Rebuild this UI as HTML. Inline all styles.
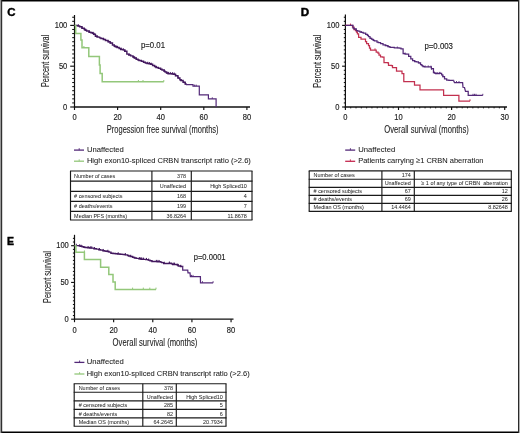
<!DOCTYPE html>
<html><head><meta charset="utf-8"><style>
html,body{margin:0;padding:0;background:#fff;}
body{width:520px;height:433px;position:relative;overflow:hidden;font-family:"Liberation Sans", sans-serif;}
</style></head><body>
<svg width="520" height="433" viewBox="0 0 520 433" style="position:absolute;left:0;top:0;will-change:transform">
<g font-family='"Liberation Sans", sans-serif'>
<rect x="0" y="0" width="520" height="433" fill="#fff"/>
<text x="7.2" y="16.4" font-size="11.5" text-anchor="start" fill="#000" stroke="#000" stroke-width="0.4" font-weight="bold" >C</text>
<line x1="74.5" y1="15" x2="74.5" y2="107.6" stroke="#111" stroke-width="1.2"/>
<line x1="70.2" y1="107" x2="74.5" y2="107" stroke="#111" stroke-width="1.15"/>
<line x1="72.2" y1="102.92" x2="74.5" y2="102.92" stroke="#111" stroke-width="1.05"/>
<line x1="72.2" y1="98.84" x2="74.5" y2="98.84" stroke="#111" stroke-width="1.05"/>
<line x1="72.2" y1="94.76" x2="74.5" y2="94.76" stroke="#111" stroke-width="1.05"/>
<line x1="72.2" y1="90.68" x2="74.5" y2="90.68" stroke="#111" stroke-width="1.05"/>
<line x1="72.2" y1="86.6" x2="74.5" y2="86.6" stroke="#111" stroke-width="1.05"/>
<line x1="72.2" y1="82.52" x2="74.5" y2="82.52" stroke="#111" stroke-width="1.05"/>
<line x1="72.2" y1="78.44" x2="74.5" y2="78.44" stroke="#111" stroke-width="1.05"/>
<line x1="72.2" y1="74.36" x2="74.5" y2="74.36" stroke="#111" stroke-width="1.05"/>
<line x1="72.2" y1="70.28" x2="74.5" y2="70.28" stroke="#111" stroke-width="1.05"/>
<line x1="70.2" y1="66.2" x2="74.5" y2="66.2" stroke="#111" stroke-width="1.15"/>
<line x1="72.2" y1="62.12" x2="74.5" y2="62.12" stroke="#111" stroke-width="1.05"/>
<line x1="72.2" y1="58.04" x2="74.5" y2="58.04" stroke="#111" stroke-width="1.05"/>
<line x1="72.2" y1="53.96" x2="74.5" y2="53.96" stroke="#111" stroke-width="1.05"/>
<line x1="72.2" y1="49.88" x2="74.5" y2="49.88" stroke="#111" stroke-width="1.05"/>
<line x1="72.2" y1="45.8" x2="74.5" y2="45.8" stroke="#111" stroke-width="1.05"/>
<line x1="72.2" y1="41.72" x2="74.5" y2="41.72" stroke="#111" stroke-width="1.05"/>
<line x1="72.2" y1="37.64" x2="74.5" y2="37.64" stroke="#111" stroke-width="1.05"/>
<line x1="72.2" y1="33.56" x2="74.5" y2="33.56" stroke="#111" stroke-width="1.05"/>
<line x1="72.2" y1="29.48" x2="74.5" y2="29.48" stroke="#111" stroke-width="1.05"/>
<line x1="70.2" y1="25.4" x2="74.5" y2="25.4" stroke="#111" stroke-width="1.15"/>
<line x1="72.2" y1="21.32" x2="74.5" y2="21.32" stroke="#111" stroke-width="1.05"/>
<line x1="72.2" y1="17.24" x2="74.5" y2="17.24" stroke="#111" stroke-width="1.05"/>
<line x1="73.9" y1="107" x2="250" y2="107" stroke="#111" stroke-width="1.3"/>
<line x1="74.5" y1="107" x2="74.5" y2="110" stroke="#111" stroke-width="1.15"/>
<line x1="117.6" y1="107" x2="117.6" y2="110" stroke="#111" stroke-width="1.15"/>
<line x1="160.7" y1="107" x2="160.7" y2="110" stroke="#111" stroke-width="1.15"/>
<line x1="203.8" y1="107" x2="203.8" y2="110" stroke="#111" stroke-width="1.15"/>
<line x1="246.9" y1="107" x2="246.9" y2="110" stroke="#111" stroke-width="1.15"/>
<text x="67.3" y="28.4" font-size="8.4" text-anchor="end" fill="#1c1c1c" stroke="#1c1c1c" stroke-width="0.15" textLength="12.61" lengthAdjust="spacingAndGlyphs" >100</text>
<text x="67.3" y="69.2" font-size="8.4" text-anchor="end" fill="#1c1c1c" stroke="#1c1c1c" stroke-width="0.15" textLength="8.41" lengthAdjust="spacingAndGlyphs" >50</text>
<text x="67.3" y="110" font-size="8.4" text-anchor="end" fill="#1c1c1c" stroke="#1c1c1c" stroke-width="0.15" textLength="4.2" lengthAdjust="spacingAndGlyphs" >0</text>
<text x="74.5" y="120.1" font-size="8.4" text-anchor="middle" fill="#1c1c1c" stroke="#1c1c1c" stroke-width="0.15" textLength="4.2" lengthAdjust="spacingAndGlyphs" >0</text>
<text x="117.6" y="120.1" font-size="8.4" text-anchor="middle" fill="#1c1c1c" stroke="#1c1c1c" stroke-width="0.15" textLength="8.41" lengthAdjust="spacingAndGlyphs" >20</text>
<text x="160.7" y="120.1" font-size="8.4" text-anchor="middle" fill="#1c1c1c" stroke="#1c1c1c" stroke-width="0.15" textLength="8.41" lengthAdjust="spacingAndGlyphs" >40</text>
<text x="203.8" y="120.1" font-size="8.4" text-anchor="middle" fill="#1c1c1c" stroke="#1c1c1c" stroke-width="0.15" textLength="8.41" lengthAdjust="spacingAndGlyphs" >60</text>
<text x="246.9" y="120.1" font-size="8.4" text-anchor="middle" fill="#1c1c1c" stroke="#1c1c1c" stroke-width="0.15" textLength="8.41" lengthAdjust="spacingAndGlyphs" >80</text>
<text x="106.8" y="133.2" font-size="10.0" text-anchor="start" fill="#222" stroke="#222" stroke-width="0.08" textLength="111.8" lengthAdjust="spacingAndGlyphs" >Progession free survival (months)</text>
<text x="0" y="0" font-size="10.3" text-anchor="start" fill="#222" stroke="#222" stroke-width="0.1" textLength="52.2" lengthAdjust="spacingAndGlyphs" transform="translate(48.9,87.1) rotate(-90)">Percent survival</text>
<text x="141" y="47.6" font-size="8.7" text-anchor="start" fill="#222" stroke="#222" stroke-width="0.15" textLength="24" lengthAdjust="spacingAndGlyphs" >p=0.01</text>
<text x="300.7" y="16.3" font-size="11.6" text-anchor="start" fill="#000" stroke="#000" stroke-width="0.45" font-weight="bold" >D</text>
<line x1="345.4" y1="14.6" x2="345.4" y2="107.6" stroke="#111" stroke-width="1.2"/>
<line x1="342.1" y1="107" x2="345.4" y2="107" stroke="#111" stroke-width="1.15"/>
<line x1="343.8" y1="102.92" x2="345.4" y2="102.92" stroke="#111" stroke-width="1.05"/>
<line x1="343.8" y1="98.84" x2="345.4" y2="98.84" stroke="#111" stroke-width="1.05"/>
<line x1="343.8" y1="94.76" x2="345.4" y2="94.76" stroke="#111" stroke-width="1.05"/>
<line x1="343.8" y1="90.68" x2="345.4" y2="90.68" stroke="#111" stroke-width="1.05"/>
<line x1="343.8" y1="86.6" x2="345.4" y2="86.6" stroke="#111" stroke-width="1.05"/>
<line x1="343.8" y1="82.52" x2="345.4" y2="82.52" stroke="#111" stroke-width="1.05"/>
<line x1="343.8" y1="78.44" x2="345.4" y2="78.44" stroke="#111" stroke-width="1.05"/>
<line x1="343.8" y1="74.36" x2="345.4" y2="74.36" stroke="#111" stroke-width="1.05"/>
<line x1="343.8" y1="70.28" x2="345.4" y2="70.28" stroke="#111" stroke-width="1.05"/>
<line x1="342.1" y1="66.2" x2="345.4" y2="66.2" stroke="#111" stroke-width="1.15"/>
<line x1="343.8" y1="62.12" x2="345.4" y2="62.12" stroke="#111" stroke-width="1.05"/>
<line x1="343.8" y1="58.04" x2="345.4" y2="58.04" stroke="#111" stroke-width="1.05"/>
<line x1="343.8" y1="53.96" x2="345.4" y2="53.96" stroke="#111" stroke-width="1.05"/>
<line x1="343.8" y1="49.88" x2="345.4" y2="49.88" stroke="#111" stroke-width="1.05"/>
<line x1="343.8" y1="45.8" x2="345.4" y2="45.8" stroke="#111" stroke-width="1.05"/>
<line x1="343.8" y1="41.72" x2="345.4" y2="41.72" stroke="#111" stroke-width="1.05"/>
<line x1="343.8" y1="37.64" x2="345.4" y2="37.64" stroke="#111" stroke-width="1.05"/>
<line x1="343.8" y1="33.56" x2="345.4" y2="33.56" stroke="#111" stroke-width="1.05"/>
<line x1="343.8" y1="29.48" x2="345.4" y2="29.48" stroke="#111" stroke-width="1.05"/>
<line x1="342.1" y1="25.4" x2="345.4" y2="25.4" stroke="#111" stroke-width="1.15"/>
<line x1="343.8" y1="21.32" x2="345.4" y2="21.32" stroke="#111" stroke-width="1.05"/>
<line x1="343.8" y1="17.24" x2="345.4" y2="17.24" stroke="#111" stroke-width="1.05"/>
<line x1="344.8" y1="107" x2="507" y2="107" stroke="#111" stroke-width="1.3"/>
<line x1="345.4" y1="107" x2="345.4" y2="110" stroke="#111" stroke-width="1.15"/>
<line x1="398.5" y1="107" x2="398.5" y2="110" stroke="#111" stroke-width="1.15"/>
<line x1="451.6" y1="107" x2="451.6" y2="110" stroke="#111" stroke-width="1.15"/>
<line x1="504.7" y1="107" x2="504.7" y2="110" stroke="#111" stroke-width="1.15"/>
<line x1="345.4" y1="107" x2="345.4" y2="108.4" stroke="#111" stroke-width="0.9"/>
<line x1="350.71" y1="107" x2="350.71" y2="108.4" stroke="#111" stroke-width="0.9"/>
<line x1="356.02" y1="107" x2="356.02" y2="108.4" stroke="#111" stroke-width="0.9"/>
<line x1="361.33" y1="107" x2="361.33" y2="108.4" stroke="#111" stroke-width="0.9"/>
<line x1="366.64" y1="107" x2="366.64" y2="108.4" stroke="#111" stroke-width="0.9"/>
<line x1="371.95" y1="107" x2="371.95" y2="108.4" stroke="#111" stroke-width="0.9"/>
<line x1="377.26" y1="107" x2="377.26" y2="108.4" stroke="#111" stroke-width="0.9"/>
<line x1="382.57" y1="107" x2="382.57" y2="108.4" stroke="#111" stroke-width="0.9"/>
<line x1="387.88" y1="107" x2="387.88" y2="108.4" stroke="#111" stroke-width="0.9"/>
<line x1="393.19" y1="107" x2="393.19" y2="108.4" stroke="#111" stroke-width="0.9"/>
<line x1="398.5" y1="107" x2="398.5" y2="108.4" stroke="#111" stroke-width="0.9"/>
<line x1="403.81" y1="107" x2="403.81" y2="108.4" stroke="#111" stroke-width="0.9"/>
<line x1="409.12" y1="107" x2="409.12" y2="108.4" stroke="#111" stroke-width="0.9"/>
<line x1="414.43" y1="107" x2="414.43" y2="108.4" stroke="#111" stroke-width="0.9"/>
<line x1="419.74" y1="107" x2="419.74" y2="108.4" stroke="#111" stroke-width="0.9"/>
<line x1="425.05" y1="107" x2="425.05" y2="108.4" stroke="#111" stroke-width="0.9"/>
<line x1="430.36" y1="107" x2="430.36" y2="108.4" stroke="#111" stroke-width="0.9"/>
<line x1="435.67" y1="107" x2="435.67" y2="108.4" stroke="#111" stroke-width="0.9"/>
<line x1="440.98" y1="107" x2="440.98" y2="108.4" stroke="#111" stroke-width="0.9"/>
<line x1="446.29" y1="107" x2="446.29" y2="108.4" stroke="#111" stroke-width="0.9"/>
<line x1="451.6" y1="107" x2="451.6" y2="108.4" stroke="#111" stroke-width="0.9"/>
<line x1="456.91" y1="107" x2="456.91" y2="108.4" stroke="#111" stroke-width="0.9"/>
<line x1="462.22" y1="107" x2="462.22" y2="108.4" stroke="#111" stroke-width="0.9"/>
<line x1="467.53" y1="107" x2="467.53" y2="108.4" stroke="#111" stroke-width="0.9"/>
<line x1="472.84" y1="107" x2="472.84" y2="108.4" stroke="#111" stroke-width="0.9"/>
<line x1="478.15" y1="107" x2="478.15" y2="108.4" stroke="#111" stroke-width="0.9"/>
<line x1="483.46" y1="107" x2="483.46" y2="108.4" stroke="#111" stroke-width="0.9"/>
<line x1="488.77" y1="107" x2="488.77" y2="108.4" stroke="#111" stroke-width="0.9"/>
<line x1="494.08" y1="107" x2="494.08" y2="108.4" stroke="#111" stroke-width="0.9"/>
<line x1="499.39" y1="107" x2="499.39" y2="108.4" stroke="#111" stroke-width="0.9"/>
<line x1="504.7" y1="107" x2="504.7" y2="108.4" stroke="#111" stroke-width="0.9"/>
<text x="339.4" y="28.4" font-size="8.4" text-anchor="end" fill="#1c1c1c" stroke="#1c1c1c" stroke-width="0.15" textLength="12.61" lengthAdjust="spacingAndGlyphs" >100</text>
<text x="339.4" y="69.2" font-size="8.4" text-anchor="end" fill="#1c1c1c" stroke="#1c1c1c" stroke-width="0.15" textLength="8.41" lengthAdjust="spacingAndGlyphs" >50</text>
<text x="339.4" y="110" font-size="8.4" text-anchor="end" fill="#1c1c1c" stroke="#1c1c1c" stroke-width="0.15" textLength="4.2" lengthAdjust="spacingAndGlyphs" >0</text>
<text x="345.4" y="120.1" font-size="8.4" text-anchor="middle" fill="#1c1c1c" stroke="#1c1c1c" stroke-width="0.15" textLength="4.2" lengthAdjust="spacingAndGlyphs" >0</text>
<text x="398.5" y="120.1" font-size="8.4" text-anchor="middle" fill="#1c1c1c" stroke="#1c1c1c" stroke-width="0.15" textLength="8.41" lengthAdjust="spacingAndGlyphs" >10</text>
<text x="451.6" y="120.1" font-size="8.4" text-anchor="middle" fill="#1c1c1c" stroke="#1c1c1c" stroke-width="0.15" textLength="8.41" lengthAdjust="spacingAndGlyphs" >20</text>
<text x="504.7" y="120.1" font-size="8.4" text-anchor="middle" fill="#1c1c1c" stroke="#1c1c1c" stroke-width="0.15" textLength="8.41" lengthAdjust="spacingAndGlyphs" >30</text>
<text x="384.3" y="133.3" font-size="10.1" text-anchor="start" fill="#222" stroke="#222" stroke-width="0.08" textLength="84.6" lengthAdjust="spacingAndGlyphs" >Overall survival (months)</text>
<text x="0" y="0" font-size="10.3" text-anchor="start" fill="#222" stroke="#222" stroke-width="0.1" textLength="53" lengthAdjust="spacingAndGlyphs" transform="translate(321.4,87.7) rotate(-90)">Percent survival</text>
<text x="424.4" y="48.9" font-size="8.6" text-anchor="start" fill="#222" stroke="#222" stroke-width="0.15" textLength="28.6" lengthAdjust="spacingAndGlyphs" >p=0.003</text>
<text x="7.1" y="245" font-size="11.3" text-anchor="start" fill="#000" stroke="#000" stroke-width="0.45" font-weight="bold" textLength="7" lengthAdjust="spacingAndGlyphs" >E</text>
<line x1="74.5" y1="234.8" x2="74.5" y2="319.8" stroke="#111" stroke-width="1.2"/>
<line x1="71.1" y1="319.2" x2="74.5" y2="319.2" stroke="#111" stroke-width="1.15"/>
<line x1="72.9" y1="315.52" x2="74.5" y2="315.52" stroke="#111" stroke-width="1.05"/>
<line x1="72.9" y1="311.85" x2="74.5" y2="311.85" stroke="#111" stroke-width="1.05"/>
<line x1="72.9" y1="308.18" x2="74.5" y2="308.18" stroke="#111" stroke-width="1.05"/>
<line x1="72.9" y1="304.5" x2="74.5" y2="304.5" stroke="#111" stroke-width="1.05"/>
<line x1="72.9" y1="300.82" x2="74.5" y2="300.82" stroke="#111" stroke-width="1.05"/>
<line x1="72.9" y1="297.15" x2="74.5" y2="297.15" stroke="#111" stroke-width="1.05"/>
<line x1="72.9" y1="293.47" x2="74.5" y2="293.47" stroke="#111" stroke-width="1.05"/>
<line x1="72.9" y1="289.8" x2="74.5" y2="289.8" stroke="#111" stroke-width="1.05"/>
<line x1="72.9" y1="286.12" x2="74.5" y2="286.12" stroke="#111" stroke-width="1.05"/>
<line x1="71.1" y1="282.45" x2="74.5" y2="282.45" stroke="#111" stroke-width="1.15"/>
<line x1="72.9" y1="278.77" x2="74.5" y2="278.77" stroke="#111" stroke-width="1.05"/>
<line x1="72.9" y1="275.1" x2="74.5" y2="275.1" stroke="#111" stroke-width="1.05"/>
<line x1="72.9" y1="271.43" x2="74.5" y2="271.43" stroke="#111" stroke-width="1.05"/>
<line x1="72.9" y1="267.75" x2="74.5" y2="267.75" stroke="#111" stroke-width="1.05"/>
<line x1="72.9" y1="264.07" x2="74.5" y2="264.07" stroke="#111" stroke-width="1.05"/>
<line x1="72.9" y1="260.4" x2="74.5" y2="260.4" stroke="#111" stroke-width="1.05"/>
<line x1="72.9" y1="256.72" x2="74.5" y2="256.72" stroke="#111" stroke-width="1.05"/>
<line x1="72.9" y1="253.05" x2="74.5" y2="253.05" stroke="#111" stroke-width="1.05"/>
<line x1="72.9" y1="249.38" x2="74.5" y2="249.38" stroke="#111" stroke-width="1.05"/>
<line x1="71.1" y1="245.7" x2="74.5" y2="245.7" stroke="#111" stroke-width="1.15"/>
<line x1="72.9" y1="242.02" x2="74.5" y2="242.02" stroke="#111" stroke-width="1.05"/>
<line x1="72.9" y1="238.35" x2="74.5" y2="238.35" stroke="#111" stroke-width="1.05"/>
<line x1="73.9" y1="319.2" x2="233.5" y2="319.2" stroke="#111" stroke-width="1.3"/>
<line x1="74.5" y1="319.2" x2="74.5" y2="322.2" stroke="#111" stroke-width="1.15"/>
<line x1="113.64" y1="319.2" x2="113.64" y2="322.2" stroke="#111" stroke-width="1.15"/>
<line x1="152.78" y1="319.2" x2="152.78" y2="322.2" stroke="#111" stroke-width="1.15"/>
<line x1="191.92" y1="319.2" x2="191.92" y2="322.2" stroke="#111" stroke-width="1.15"/>
<line x1="231.06" y1="319.2" x2="231.06" y2="322.2" stroke="#111" stroke-width="1.15"/>
<text x="68.8" y="248.2" font-size="8.4" text-anchor="end" fill="#1c1c1c" stroke="#1c1c1c" stroke-width="0.15" textLength="12.61" lengthAdjust="spacingAndGlyphs" >100</text>
<text x="68.8" y="284.95" font-size="8.4" text-anchor="end" fill="#1c1c1c" stroke="#1c1c1c" stroke-width="0.15" textLength="8.41" lengthAdjust="spacingAndGlyphs" >50</text>
<text x="68.8" y="321.7" font-size="8.4" text-anchor="end" fill="#1c1c1c" stroke="#1c1c1c" stroke-width="0.15" textLength="4.2" lengthAdjust="spacingAndGlyphs" >0</text>
<text x="74.5" y="332.5" font-size="8.4" text-anchor="middle" fill="#1c1c1c" stroke="#1c1c1c" stroke-width="0.15" textLength="4.2" lengthAdjust="spacingAndGlyphs" >0</text>
<text x="113.64" y="332.5" font-size="8.4" text-anchor="middle" fill="#1c1c1c" stroke="#1c1c1c" stroke-width="0.15" textLength="8.41" lengthAdjust="spacingAndGlyphs" >20</text>
<text x="152.78" y="332.5" font-size="8.4" text-anchor="middle" fill="#1c1c1c" stroke="#1c1c1c" stroke-width="0.15" textLength="8.41" lengthAdjust="spacingAndGlyphs" >40</text>
<text x="191.92" y="332.5" font-size="8.4" text-anchor="middle" fill="#1c1c1c" stroke="#1c1c1c" stroke-width="0.15" textLength="8.41" lengthAdjust="spacingAndGlyphs" >60</text>
<text x="231.06" y="332.5" font-size="8.4" text-anchor="middle" fill="#1c1c1c" stroke="#1c1c1c" stroke-width="0.15" textLength="8.41" lengthAdjust="spacingAndGlyphs" >80</text>
<text x="112.6" y="345.7" font-size="10.1" text-anchor="start" fill="#222" stroke="#222" stroke-width="0.08" textLength="84.8" lengthAdjust="spacingAndGlyphs" >Overall survival (months)</text>
<text x="0" y="0" font-size="10.3" text-anchor="start" fill="#222" stroke="#222" stroke-width="0.1" textLength="51.8" lengthAdjust="spacingAndGlyphs" transform="translate(50.6,302.9) rotate(-90)">Percent survival</text>
<text x="193.7" y="260.2" font-size="8.6" text-anchor="start" fill="#222" stroke="#222" stroke-width="0.15" textLength="31.9" lengthAdjust="spacingAndGlyphs" >p=0.0001</text>
<polyline points="74.5,25.4 75.71,25.4 75.71,25.5 77.94,25.5 77.94,25.95 79.66,25.95 79.66,26.77 81.92,26.77 81.92,28.19 84.26,28.19 84.26,29.62 85.26,29.62 85.26,30.18 86.62,30.18 86.62,31.05 89.07,31.05 89.07,32.3 90.93,32.3 90.93,32.73 92.54,32.73 92.54,33.22 93.59,33.22 93.59,34.29 95.38,34.29 95.38,36.21 96.73,36.21 96.73,36.71 97.77,36.71 97.77,37.11 99.66,37.11 99.66,37.88 100.96,37.88 100.96,38.47 103.33,38.47 103.33,39.55 105.49,39.55 105.49,40.54 107.98,40.54 107.98,41.75 110.06,41.75 110.06,43 112.47,43 112.47,44.92 114.28,44.92 114.28,46.33 115.33,46.33 115.33,46.74 116.99,46.74 116.99,47.41 119.12,47.41 119.12,48.55 120.72,48.55 120.72,49.42 122.96,49.42 122.96,49.85 124.75,49.85 124.75,51.25 126.87,51.25 126.87,54.13 128.82,54.13 128.82,55.05 130.63,55.05 130.63,55.85 132.86,55.85 132.86,57.06 134.23,57.06 134.23,58.07 136.16,58.07 136.16,59.2 138.03,59.2 138.03,60.09 139.04,60.09 139.04,60.44 141.35,60.44 141.35,61.33 143.54,61.33 143.54,62.29 145.37,62.29 145.37,62.94 147.05,62.94 147.05,63.41 148.96,63.41 148.96,63.79 150.74,63.79 150.74,64.3 152.6,64.3 152.6,65.4 154.58,65.4 154.58,66.64 155.95,66.64 155.95,67.4 158.32,67.4 158.32,68.33 160.6,68.33 160.6,69.27 162.01,69.27 162.01,69.99 164.09,69.99 164.09,71.33 165.11,71.33 165.11,72.05 166.51,72.05 166.51,73.09 168.06,73.09 168.06,73.65 169.9,73.65 169.9,73.75 172.04,73.75 172.04,73.96 173.8,73.96 173.8,74.16 175.47,74.16 175.47,75.65 177.91,75.65 177.91,77.97 179.88,77.97 179.88,79.7 180.92,79.7 180.92,80.59 183.07,80.59 183.07,82.34 185.15,82.34 185.15,83.92 186,83.92 186,84.6" fill="none" stroke="#43185f" stroke-width="1.45" stroke-linejoin="miter" />
<line x1="78.43" y1="26.43" x2="78.43" y2="24.33" stroke="#43185f" stroke-width="1.0"/>
<line x1="82.14" y1="28.63" x2="82.14" y2="26.53" stroke="#43185f" stroke-width="1.0"/>
<line x1="84.91" y1="30.29" x2="84.91" y2="28.19" stroke="#43185f" stroke-width="1.0"/>
<line x1="85.89" y1="30.84" x2="85.89" y2="28.74" stroke="#43185f" stroke-width="1.0"/>
<line x1="89.28" y1="32.65" x2="89.28" y2="30.55" stroke="#43185f" stroke-width="1.0"/>
<line x1="93" y1="33.85" x2="93" y2="31.75" stroke="#43185f" stroke-width="1.0"/>
<line x1="94.05" y1="35.16" x2="94.05" y2="33.06" stroke="#43185f" stroke-width="1.0"/>
<line x1="95.72" y1="36.63" x2="95.72" y2="34.53" stroke="#43185f" stroke-width="1.0"/>
<line x1="97.11" y1="37.15" x2="97.11" y2="35.05" stroke="#43185f" stroke-width="1.0"/>
<line x1="103.73" y1="40.03" x2="103.73" y2="37.93" stroke="#43185f" stroke-width="1.0"/>
<line x1="108.68" y1="42.42" x2="108.68" y2="40.32" stroke="#43185f" stroke-width="1.0"/>
<line x1="110.61" y1="43.66" x2="110.61" y2="41.56" stroke="#43185f" stroke-width="1.0"/>
<line x1="116.01" y1="47.31" x2="116.01" y2="45.21" stroke="#43185f" stroke-width="1.0"/>
<line x1="117.52" y1="47.94" x2="117.52" y2="45.84" stroke="#43185f" stroke-width="1.0"/>
<line x1="121.22" y1="49.81" x2="121.22" y2="47.71" stroke="#43185f" stroke-width="1.0"/>
<line x1="123.4" y1="50.49" x2="123.4" y2="48.39" stroke="#43185f" stroke-width="1.0"/>
<line x1="124.97" y1="51.72" x2="124.97" y2="49.62" stroke="#43185f" stroke-width="1.0"/>
<line x1="129.12" y1="55.49" x2="129.12" y2="53.39" stroke="#43185f" stroke-width="1.0"/>
<line x1="133.58" y1="57.89" x2="133.58" y2="55.79" stroke="#43185f" stroke-width="1.0"/>
<line x1="135" y1="58.84" x2="135" y2="56.74" stroke="#43185f" stroke-width="1.0"/>
<line x1="136.52" y1="59.71" x2="136.52" y2="57.61" stroke="#43185f" stroke-width="1.0"/>
<line x1="147.77" y1="63.85" x2="147.77" y2="61.75" stroke="#43185f" stroke-width="1.0"/>
<line x1="149.47" y1="64.23" x2="149.47" y2="62.13" stroke="#43185f" stroke-width="1.0"/>
<line x1="151.15" y1="64.73" x2="151.15" y2="62.63" stroke="#43185f" stroke-width="1.0"/>
<line x1="154.8" y1="67.07" x2="154.8" y2="64.97" stroke="#43185f" stroke-width="1.0"/>
<line x1="156.5" y1="67.91" x2="156.5" y2="65.81" stroke="#43185f" stroke-width="1.0"/>
<line x1="164.3" y1="71.77" x2="164.3" y2="69.67" stroke="#43185f" stroke-width="1.0"/>
<line x1="167.08" y1="73.81" x2="167.08" y2="71.71" stroke="#43185f" stroke-width="1.0"/>
<line x1="168.35" y1="73.97" x2="168.35" y2="71.87" stroke="#43185f" stroke-width="1.0"/>
<line x1="170.27" y1="74.08" x2="170.27" y2="71.98" stroke="#43185f" stroke-width="1.0"/>
<line x1="172.43" y1="74.3" x2="172.43" y2="72.2" stroke="#43185f" stroke-width="1.0"/>
<line x1="174.23" y1="74.64" x2="174.23" y2="72.54" stroke="#43185f" stroke-width="1.0"/>
<line x1="175.74" y1="76.23" x2="175.74" y2="74.13" stroke="#43185f" stroke-width="1.0"/>
<line x1="178.24" y1="78.56" x2="178.24" y2="76.46" stroke="#43185f" stroke-width="1.0"/>
<line x1="181.2" y1="81.14" x2="181.2" y2="79.04" stroke="#43185f" stroke-width="1.0"/>
<line x1="183.69" y1="83.1" x2="183.69" y2="81" stroke="#43185f" stroke-width="1.0"/>
<line x1="185.48" y1="84.49" x2="185.48" y2="82.39" stroke="#43185f" stroke-width="1.0"/>
<polyline points="186,84.6 193,84.6 193,86.2 199.3,86.2 199.3,94.8 208.4,94.8 208.4,98.9 216.1,98.9 216.1,107" fill="none" stroke="#532878" stroke-width="1.2" stroke-linejoin="miter" />
<line x1="194.6" y1="86.2" x2="194.6" y2="84.6" stroke="#532878" stroke-width="0.9"/>
<line x1="196.2" y1="86.2" x2="196.2" y2="84.6" stroke="#532878" stroke-width="0.9"/>
<line x1="212.3" y1="98.9" x2="212.3" y2="97.3" stroke="#532878" stroke-width="0.9"/>
<polyline points="74.6,25.4 75.7,25.4 75.7,33.4 80.9,33.4 80.9,40.1 82,40.1 82,47.7 88.8,47.7 88.8,56.4 99.4,56.4 99.4,65 100.1,65 100.1,73.4 102.2,73.4 102.2,81.8 163.8,81.8 163.8,81.8" fill="none" stroke="#93c77a" stroke-width="1.5" stroke-linejoin="miter" />
<line x1="138.4" y1="81.8" x2="138.4" y2="80" stroke="#93c77a" stroke-width="1.0"/>
<line x1="143" y1="81.8" x2="143" y2="80" stroke="#93c77a" stroke-width="1.0"/>
<line x1="163.8" y1="81.8" x2="163.8" y2="80" stroke="#93c77a" stroke-width="1.0"/>
<line x1="83.9" y1="47.7" x2="83.9" y2="46" stroke="#93c77a" stroke-width="1.0"/>
<polyline points="345.4,25.4 350.5,25.4 350.5,25.4 352.5,25.4 352.5,27 354,27 354,29.5 355.5,29.5 355.5,30.5 356.5,30.5 356.5,32 357.4,32 357.4,33.8 358.6,33.8 358.6,37.3 361,37.3 361,39 363.8,39 363.8,39 365.5,39 365.5,41.5 366.6,41.5 366.6,43.6 368.5,43.6 368.5,45.5 369.5,45.5 369.5,48 370.5,48 370.5,50.2 375.3,50.2 375.3,50.2 376.2,50.2 376.2,52 378,52 378,53 379,53 379,55.2 380.5,55.2 380.5,56.9 382.5,56.9 382.5,57 384,57 384,62.5 388.1,62.5 388.1,63 388.5,63 388.5,65.4 391.5,65.4 391.5,65.5 392.5,65.5 392.5,67.7 395.6,67.7 395.6,67.7 396.5,67.7 396.5,71.1 401.3,71.1 401.3,71.1 402,71.1 402,73.5 403.6,73.5 403.6,73.5 403.8,73.5 403.8,81.5 413.4,81.5 413.4,81.5 414.5,81.5 414.5,85.2 419.4,85.2 419.4,85.2 420,85.2 420,89.85 443.6,89.85 443.6,89.85 443.6,89.85 443.6,95.4 458.9,95.4 458.9,95.4 458.9,95.4 458.9,101.1 470,101.1 470,101.1" fill="none" stroke="#c2304f" stroke-width="1.25" stroke-linejoin="miter" />
<line x1="350.5" y1="25.4" x2="350.5" y2="23.6" stroke="#c2304f" stroke-width="1.0"/>
<line x1="470" y1="101.1" x2="470" y2="99.3" stroke="#c2304f" stroke-width="1.0"/>
<line x1="375" y1="50.2" x2="375" y2="48.4" stroke="#c2304f" stroke-width="1.0"/>
<polyline points="345.4,25.4 350.5,25.4 353.03,25.4 353.03,28.03 354.12,28.03 354.12,28.97 356.3,28.97 356.3,30.6 357.79,30.6 357.79,31.13 359.76,31.13 359.76,31.9 361.02,31.9 361.02,32.41 363.17,32.41 363.17,33.13 365.69,33.13 365.69,34.29 367.4,34.29 367.4,35.28 368.45,35.28 368.45,36.73 369.96,36.73 369.96,38.35 371.8,38.35 371.8,39.48 373.18,39.48 373.18,40.27 374.39,40.27 374.39,40.92 376.99,40.92 376.99,42.01 378.28,42.01 378.28,42.54 380.56,42.54 380.56,43.71 383.01,43.71 383.01,44.9 385.27,44.9 385.27,45.69 387.81,45.69 387.81,46.71 389.95,46.71 389.95,47.29 391.8,47.29 391.8,47.49 394.28,47.49 394.28,47.75 396.61,47.75 396.61,47.96 399.05,47.96 399.05,48.2 400.96,48.2 400.96,48.79 403.12,48.79 403.12,53.59 404.47,53.59 404.47,53.86 405.74,53.86 405.74,54.02 407.17,54.02 407.17,54.2 408.66,54.2 408.66,56.28 410.79,56.28 410.79,58.92 412.62,58.92 412.62,60.72 414.56,60.72 414.56,61.51 416.38,61.51 416.38,61.98 418.38,61.98 418.38,62.91 420.54,62.91 420.54,64.63 421.85,64.63 421.85,65.67 422.94,65.67 422.94,66.54 424.38,66.54 424.38,66.9 425.55,66.9 425.55,66.9 427.91,66.9 427.91,66.9 430.32,66.9 430.32,66.9 431.37,66.9 431.37,68.66 433.45,68.66 433.45,72.51 434.49,72.51 434.49,73.02 435.53,73.02 435.53,73.52 436.78,73.52 436.78,73.73 438.39,73.73 438.39,73.55 439.64,73.55 439.64,73.42 441.62,73.42 441.62,74.97 442.8,74.97 442.8,76.67 444.52,76.67 444.52,78.91 446.7,78.91 446.7,80.04 448.91,80.04 448.91,80.33 451.04,80.33 451.04,80.36 452.4,80.36 452.4,80.38 453.5,80.38 453.5,80.4" fill="none" stroke="#532878" stroke-width="1.25" stroke-linejoin="miter" />
<line x1="354.82" y1="29.83" x2="354.82" y2="28.03" stroke="#532878" stroke-width="0.85"/>
<line x1="361.45" y1="32.88" x2="361.45" y2="31.08" stroke="#532878" stroke-width="0.85"/>
<line x1="367.62" y1="35.89" x2="367.62" y2="34.09" stroke="#532878" stroke-width="0.85"/>
<line x1="370.69" y1="39.14" x2="370.69" y2="37.34" stroke="#532878" stroke-width="0.85"/>
<line x1="373.57" y1="40.8" x2="373.57" y2="39" stroke="#532878" stroke-width="0.85"/>
<line x1="386.06" y1="46.23" x2="386.06" y2="44.43" stroke="#532878" stroke-width="0.85"/>
<line x1="388.46" y1="47.22" x2="388.46" y2="45.42" stroke="#532878" stroke-width="0.85"/>
<line x1="397.34" y1="48.33" x2="397.34" y2="46.53" stroke="#532878" stroke-width="0.85"/>
<line x1="405.09" y1="54.24" x2="405.09" y2="52.44" stroke="#532878" stroke-width="0.85"/>
<line x1="414.89" y1="61.89" x2="414.89" y2="60.09" stroke="#532878" stroke-width="0.85"/>
<line x1="419.07" y1="63.76" x2="419.07" y2="61.96" stroke="#532878" stroke-width="0.85"/>
<line x1="425.1" y1="67.2" x2="425.1" y2="65.4" stroke="#532878" stroke-width="0.85"/>
<line x1="428.24" y1="67.2" x2="428.24" y2="65.4" stroke="#532878" stroke-width="0.85"/>
<line x1="430.95" y1="67.4" x2="430.95" y2="65.6" stroke="#532878" stroke-width="0.85"/>
<line x1="431.68" y1="70" x2="431.68" y2="68.2" stroke="#532878" stroke-width="0.85"/>
<line x1="434.22" y1="73.19" x2="434.22" y2="71.39" stroke="#532878" stroke-width="0.85"/>
<line x1="436.21" y1="74.09" x2="436.21" y2="72.29" stroke="#532878" stroke-width="0.85"/>
<line x1="437.39" y1="73.96" x2="437.39" y2="72.16" stroke="#532878" stroke-width="0.85"/>
<line x1="439.19" y1="73.76" x2="439.19" y2="71.96" stroke="#532878" stroke-width="0.85"/>
<line x1="440.04" y1="73.67" x2="440.04" y2="71.87" stroke="#532878" stroke-width="0.85"/>
<line x1="443.02" y1="77.28" x2="443.02" y2="75.48" stroke="#532878" stroke-width="0.85"/>
<polyline points="453.5,80.4 454.5,82.6 462.6,82.6 463,87.3 464.5,87.5 465.5,91.3 468.2,91.3 468.2,95.4 482.8,95.4" fill="none" stroke="#532878" stroke-width="1.25" stroke-linejoin="miter" />
<line x1="473" y1="95.4" x2="473" y2="93.8" stroke="#532878" stroke-width="0.9"/>
<line x1="474.5" y1="95.4" x2="474.5" y2="93.8" stroke="#532878" stroke-width="0.9"/>
<line x1="476" y1="95.4" x2="476" y2="93.8" stroke="#532878" stroke-width="0.9"/>
<line x1="482.8" y1="95.4" x2="482.8" y2="93.8" stroke="#532878" stroke-width="0.9"/>
<line x1="459" y1="82.6" x2="459" y2="81" stroke="#532878" stroke-width="0.9"/>
<line x1="456.5" y1="82.6" x2="456.5" y2="81" stroke="#532878" stroke-width="0.9"/>
<polyline points="74.5,245.7 75.88,245.7 75.88,245.6 77.85,245.6 77.85,245.64 78.95,245.64 78.95,245.89 80.37,245.89 80.37,246.31 82.12,246.31 82.12,246.81 83.88,246.81 83.88,247.25 85.12,247.25 85.12,247.41 87.51,247.41 87.51,247.75 89.59,247.75 89.59,247.97 91.53,247.97 91.53,248.1 93.92,248.1 93.92,248.78 96.32,248.78 96.32,249.13 98.8,249.13 98.8,249.69 100.51,249.69 100.51,250.1 102.91,250.1 102.91,250.67 104.26,250.67 104.26,250.99 105.96,250.99 105.96,251.27 107.44,251.27 107.44,251.51 109,251.51 109,252.13 110.94,252.13 110.94,253.16 113.03,253.16 113.03,253.47 115.4,253.47 115.4,253.7 117.47,253.7 117.47,253.94 120.02,253.94 120.02,254.2 121.93,254.2 121.93,254.36 123.26,254.36 123.26,254.46 125.18,254.46 125.18,254.87 127.55,254.87 127.55,255.56 128.69,255.56 128.69,255.91 130.35,255.91 130.35,256.42 132.58,256.42 132.58,257.16 133.65,257.16 133.65,257.53 134.72,257.53 134.72,257.91 136.25,257.91 136.25,258.37 138.82,258.37 138.82,258.78 140.31,258.78 140.31,259.01 141.36,259.01 141.36,259.18 143.34,259.18 143.34,259.39 145.73,259.39 145.73,259.64 148.16,259.64 148.16,260.12 149.99,260.12 149.99,260.8 151.95,260.8 151.95,261.5 153.94,261.5 153.94,261.58 155.75,261.58 155.75,261.64 157.13,261.64 157.13,261.69 158.97,261.69 158.97,261.76 160.63,261.76 160.63,262.11 161.66,262.11 161.66,262.63 163.67,262.63 163.67,263.49 165.42,263.49 165.42,263.44 166.98,263.44 166.98,263.4 169.16,263.4 169.16,263.34 171.25,263.34 171.25,263.85 172.65,263.85 172.65,264.4 174.16,264.4 174.16,264.4 175.75,264.4 175.75,264.4 177.23,264.4 177.23,264.93 178.27,264.93 178.27,265.97 180.45,265.97 180.45,266.52 182.7,266.52 182.7,266.7" fill="none" stroke="#43185f" stroke-width="1.45" stroke-linejoin="miter" />
<line x1="76.3" y1="245.87" x2="76.3" y2="243.77" stroke="#43185f" stroke-width="1.0"/>
<line x1="79.65" y1="246.4" x2="79.65" y2="244.3" stroke="#43185f" stroke-width="1.0"/>
<line x1="81.16" y1="246.85" x2="81.16" y2="244.75" stroke="#43185f" stroke-width="1.0"/>
<line x1="88.16" y1="248.15" x2="88.16" y2="246.05" stroke="#43185f" stroke-width="1.0"/>
<line x1="90.24" y1="248.31" x2="90.24" y2="246.21" stroke="#43185f" stroke-width="1.0"/>
<line x1="91.75" y1="248.44" x2="91.75" y2="246.34" stroke="#43185f" stroke-width="1.0"/>
<line x1="94.55" y1="249.18" x2="94.55" y2="247.08" stroke="#43185f" stroke-width="1.0"/>
<line x1="99.48" y1="250.15" x2="99.48" y2="248.05" stroke="#43185f" stroke-width="1.0"/>
<line x1="103.2" y1="251.04" x2="103.2" y2="248.94" stroke="#43185f" stroke-width="1.0"/>
<line x1="107.87" y1="251.88" x2="107.87" y2="249.78" stroke="#43185f" stroke-width="1.0"/>
<line x1="118.19" y1="254.32" x2="118.19" y2="252.22" stroke="#43185f" stroke-width="1.0"/>
<line x1="125.42" y1="255.24" x2="125.42" y2="253.14" stroke="#43185f" stroke-width="1.0"/>
<line x1="130.72" y1="256.84" x2="130.72" y2="254.74" stroke="#43185f" stroke-width="1.0"/>
<line x1="139.62" y1="259.2" x2="139.62" y2="257.1" stroke="#43185f" stroke-width="1.0"/>
<line x1="140.87" y1="259.4" x2="140.87" y2="257.3" stroke="#43185f" stroke-width="1.0"/>
<line x1="141.81" y1="259.53" x2="141.81" y2="257.43" stroke="#43185f" stroke-width="1.0"/>
<line x1="143.57" y1="259.71" x2="143.57" y2="257.61" stroke="#43185f" stroke-width="1.0"/>
<line x1="146.5" y1="260.02" x2="146.5" y2="257.92" stroke="#43185f" stroke-width="1.0"/>
<line x1="148.64" y1="260.59" x2="148.64" y2="258.49" stroke="#43185f" stroke-width="1.0"/>
<line x1="156.38" y1="261.97" x2="156.38" y2="259.87" stroke="#43185f" stroke-width="1.0"/>
<line x1="157.92" y1="262.02" x2="157.92" y2="259.92" stroke="#43185f" stroke-width="1.0"/>
<line x1="159.17" y1="262.07" x2="159.17" y2="259.97" stroke="#43185f" stroke-width="1.0"/>
<line x1="164.25" y1="263.78" x2="164.25" y2="261.68" stroke="#43185f" stroke-width="1.0"/>
<line x1="169.4" y1="263.63" x2="169.4" y2="261.53" stroke="#43185f" stroke-width="1.0"/>
<line x1="173.2" y1="264.7" x2="173.2" y2="262.6" stroke="#43185f" stroke-width="1.0"/>
<line x1="174.55" y1="264.7" x2="174.55" y2="262.6" stroke="#43185f" stroke-width="1.0"/>
<line x1="177.89" y1="265.89" x2="177.89" y2="263.79" stroke="#43185f" stroke-width="1.0"/>
<line x1="180.78" y1="266.89" x2="180.78" y2="264.79" stroke="#43185f" stroke-width="1.0"/>
<polyline points="182.7,266.7 182.7,270 187.7,270 188,272.9 190,272.9 190.4,276.5 200.4,276.5 200.5,282.8 213.1,282.8" fill="none" stroke="#532878" stroke-width="1.25" stroke-linejoin="miter" />
<line x1="213.1" y1="282.8" x2="213.1" y2="281.2" stroke="#532878" stroke-width="0.9"/>
<line x1="202.5" y1="282.8" x2="202.5" y2="281.2" stroke="#532878" stroke-width="0.9"/>
<line x1="191.5" y1="276.5" x2="191.5" y2="274.9" stroke="#532878" stroke-width="0.9"/>
<line x1="193" y1="276.5" x2="193" y2="274.9" stroke="#532878" stroke-width="0.9"/>
<polyline points="74.6,245.7 75.9,245.7 75.9,252.2 84.4,252.2 84.4,259.6 100.6,259.6 100.6,267.3 108.8,267.3 108.8,274.6 113,274.6 113,281.9 115.2,281.9 115.2,289.4 156,289.4 156,289.4" fill="none" stroke="#93c77a" stroke-width="1.5" stroke-linejoin="miter" />
<line x1="132.6" y1="289.4" x2="132.6" y2="287.6" stroke="#93c77a" stroke-width="1.0"/>
<line x1="143.3" y1="289.4" x2="143.3" y2="287.6" stroke="#93c77a" stroke-width="1.0"/>
<line x1="149.8" y1="289.4" x2="149.8" y2="287.6" stroke="#93c77a" stroke-width="1.0"/>
<line x1="156" y1="289.4" x2="156" y2="287.6" stroke="#93c77a" stroke-width="1.0"/>
<line x1="84.4" y1="252.2" x2="84.4" y2="250.4" stroke="#93c77a" stroke-width="1.0"/>
<line x1="74" y1="150.1" x2="84" y2="150.1" stroke="#532878" stroke-width="1.3"/>
<line x1="79.2" y1="150.1" x2="79.2" y2="148.2" stroke="#532878" stroke-width="0.9"/>
<text x="86.9" y="151.8" font-size="7.9" text-anchor="start" fill="#1a1a1a" stroke="#1a1a1a" stroke-width="0.06" textLength="37" lengthAdjust="spacingAndGlyphs" >Unaffected</text>
<line x1="74" y1="161.2" x2="84" y2="161.2" stroke="#93c77a" stroke-width="1.3"/>
<line x1="79.2" y1="161.2" x2="79.2" y2="159.3" stroke="#93c77a" stroke-width="0.9"/>
<text x="86.9" y="162.9" font-size="7.9" text-anchor="start" fill="#1a1a1a" stroke="#1a1a1a" stroke-width="0.06" textLength="164" lengthAdjust="spacingAndGlyphs" >High exon10-spliced CRBN transcript ratio (&gt;2.6)</text>
<line x1="345.2" y1="150.1" x2="355.2" y2="150.1" stroke="#532878" stroke-width="1.3"/>
<line x1="350.4" y1="150.1" x2="350.4" y2="148.2" stroke="#532878" stroke-width="0.9"/>
<text x="358.2" y="151.8" font-size="7.9" text-anchor="start" fill="#1a1a1a" stroke="#1a1a1a" stroke-width="0.06" textLength="37" lengthAdjust="spacingAndGlyphs" >Unaffected</text>
<line x1="345.2" y1="161.3" x2="355.2" y2="161.3" stroke="#c42a50" stroke-width="1.3"/>
<line x1="350.4" y1="161.3" x2="350.4" y2="159.4" stroke="#c42a50" stroke-width="0.9"/>
<text x="358.2" y="163" font-size="7.9" text-anchor="start" fill="#1a1a1a" stroke="#1a1a1a" stroke-width="0.06" textLength="125.3" lengthAdjust="spacingAndGlyphs" >Patients carrying ≥1 CRBN aberration</text>
<line x1="74.4" y1="362.4" x2="84.4" y2="362.4" stroke="#532878" stroke-width="1.3"/>
<line x1="79.6" y1="362.4" x2="79.6" y2="360.5" stroke="#532878" stroke-width="0.9"/>
<text x="86.7" y="364.1" font-size="7.9" text-anchor="start" fill="#1a1a1a" stroke="#1a1a1a" stroke-width="0.06" textLength="37" lengthAdjust="spacingAndGlyphs" >Unaffected</text>
<line x1="74.4" y1="374" x2="84.4" y2="374" stroke="#93c77a" stroke-width="1.3"/>
<line x1="79.6" y1="374" x2="79.6" y2="372.1" stroke="#93c77a" stroke-width="0.9"/>
<text x="86.7" y="375.7" font-size="7.9" text-anchor="start" fill="#1a1a1a" stroke="#1a1a1a" stroke-width="0.06" textLength="163" lengthAdjust="spacingAndGlyphs" >High exon10-spliced CRBN transcript ratio (&gt;2.6)</text>
<line x1="70" y1="171" x2="252.5" y2="171" stroke="#1a1a1a" stroke-width="1.15"/>
<line x1="70" y1="181.1" x2="252.5" y2="181.1" stroke="#1a1a1a" stroke-width="1.15"/>
<line x1="70" y1="191.4" x2="252.5" y2="191.4" stroke="#1a1a1a" stroke-width="1.15"/>
<line x1="70" y1="201.3" x2="252.5" y2="201.3" stroke="#1a1a1a" stroke-width="1.15"/>
<line x1="70" y1="211.3" x2="252.5" y2="211.3" stroke="#1a1a1a" stroke-width="1.15"/>
<line x1="70" y1="220" x2="252.5" y2="220" stroke="#1a1a1a" stroke-width="1.15"/>
<line x1="70.5" y1="171" x2="70.5" y2="220" stroke="#1a1a1a" stroke-width="1.15"/>
<line x1="151.9" y1="171" x2="151.9" y2="220" stroke="#1a1a1a" stroke-width="1.15"/>
<line x1="191.3" y1="171" x2="191.3" y2="220" stroke="#1a1a1a" stroke-width="1.15"/>
<line x1="252" y1="171" x2="252" y2="220" stroke="#1a1a1a" stroke-width="1.15"/>
<text x="74.1" y="178.12" font-size="5.75" text-anchor="start" fill="#262626" stroke="#262626" stroke-width="0.03" textLength="41.2" lengthAdjust="spacingAndGlyphs" >Number of cases</text>
<text x="186.1" y="178.12" font-size="5.75" text-anchor="end" fill="#262626" stroke="#262626" stroke-width="0.03" textLength="9.09" lengthAdjust="spacingAndGlyphs" >378</text>
<text x="186.1" y="188.32" font-size="5.75" text-anchor="end" fill="#262626" stroke="#262626" stroke-width="0.03" textLength="26.26" lengthAdjust="spacingAndGlyphs" >Unaffected</text>
<text x="246.8" y="188.32" font-size="5.75" text-anchor="end" fill="#262626" stroke="#262626" stroke-width="0.03" textLength="36.66" lengthAdjust="spacingAndGlyphs" >High Spliced10</text>
<text x="74.1" y="198.42" font-size="5.75" text-anchor="start" fill="#262626" stroke="#262626" stroke-width="0.03" textLength="48.47" lengthAdjust="spacingAndGlyphs" ># censored subjects</text>
<text x="186.1" y="198.42" font-size="5.75" text-anchor="end" fill="#262626" stroke="#262626" stroke-width="0.03" textLength="9.09" lengthAdjust="spacingAndGlyphs" >168</text>
<text x="246.8" y="198.42" font-size="5.75" text-anchor="end" fill="#262626" stroke="#262626" stroke-width="0.03" textLength="3.03" lengthAdjust="spacingAndGlyphs" >4</text>
<text x="74.1" y="208.37" font-size="5.75" text-anchor="start" fill="#262626" stroke="#262626" stroke-width="0.03" textLength="38.48" lengthAdjust="spacingAndGlyphs" ># deaths/events</text>
<text x="186.1" y="208.37" font-size="5.75" text-anchor="end" fill="#262626" stroke="#262626" stroke-width="0.03" textLength="9.09" lengthAdjust="spacingAndGlyphs" >199</text>
<text x="246.8" y="208.37" font-size="5.75" text-anchor="end" fill="#262626" stroke="#262626" stroke-width="0.03" textLength="3.03" lengthAdjust="spacingAndGlyphs" >7</text>
<text x="74.1" y="217.72" font-size="5.75" text-anchor="start" fill="#262626" stroke="#262626" stroke-width="0.03" textLength="53.01" lengthAdjust="spacingAndGlyphs" >Median PFS (months)</text>
<text x="186.1" y="217.72" font-size="5.75" text-anchor="end" fill="#262626" stroke="#262626" stroke-width="0.03" textLength="19.7" lengthAdjust="spacingAndGlyphs" >36.8264</text>
<text x="246.8" y="217.72" font-size="5.75" text-anchor="end" fill="#262626" stroke="#262626" stroke-width="0.03" textLength="19.3" lengthAdjust="spacingAndGlyphs" >11.8678</text>
<line x1="308.7" y1="170.9" x2="511.8" y2="170.9" stroke="#1a1a1a" stroke-width="1.15"/>
<line x1="308.7" y1="179.2" x2="511.8" y2="179.2" stroke="#1a1a1a" stroke-width="1.15"/>
<line x1="308.7" y1="187.3" x2="511.8" y2="187.3" stroke="#1a1a1a" stroke-width="1.15"/>
<line x1="308.7" y1="195.4" x2="511.8" y2="195.4" stroke="#1a1a1a" stroke-width="1.15"/>
<line x1="308.7" y1="203.4" x2="511.8" y2="203.4" stroke="#1a1a1a" stroke-width="1.15"/>
<line x1="308.7" y1="211.3" x2="511.8" y2="211.3" stroke="#1a1a1a" stroke-width="1.15"/>
<line x1="309.2" y1="170.9" x2="309.2" y2="211.3" stroke="#1a1a1a" stroke-width="1.15"/>
<line x1="381.9" y1="170.9" x2="381.9" y2="211.3" stroke="#1a1a1a" stroke-width="1.15"/>
<line x1="414.3" y1="170.9" x2="414.3" y2="211.3" stroke="#1a1a1a" stroke-width="1.15"/>
<line x1="511.3" y1="170.9" x2="511.3" y2="211.3" stroke="#1a1a1a" stroke-width="1.15"/>
<text x="313.6" y="177.12" font-size="5.75" text-anchor="start" fill="#262626" stroke="#262626" stroke-width="0.03" textLength="41.2" lengthAdjust="spacingAndGlyphs" >Number of cases</text>
<text x="410.9" y="177.12" font-size="5.75" text-anchor="end" fill="#262626" stroke="#262626" stroke-width="0.03" textLength="9.09" lengthAdjust="spacingAndGlyphs" >174</text>
<text x="410.9" y="185.32" font-size="5.75" text-anchor="end" fill="#262626" stroke="#262626" stroke-width="0.03" textLength="26.26" lengthAdjust="spacingAndGlyphs" >Unaffected</text>
<text x="507.9" y="185.32" font-size="5.75" text-anchor="end" fill="#262626" stroke="#262626" stroke-width="0.03" textLength="86.6" lengthAdjust="spacingAndGlyphs" >≥ 1 of any type of CRBN&#160; aberration</text>
<text x="313.6" y="193.42" font-size="5.75" text-anchor="start" fill="#262626" stroke="#262626" stroke-width="0.03" textLength="48.47" lengthAdjust="spacingAndGlyphs" ># censored subjects</text>
<text x="410.9" y="193.42" font-size="5.75" text-anchor="end" fill="#262626" stroke="#262626" stroke-width="0.03" textLength="6.06" lengthAdjust="spacingAndGlyphs" >67</text>
<text x="507.9" y="193.42" font-size="5.75" text-anchor="end" fill="#262626" stroke="#262626" stroke-width="0.03" textLength="6.06" lengthAdjust="spacingAndGlyphs" >12</text>
<text x="313.6" y="201.47" font-size="5.75" text-anchor="start" fill="#262626" stroke="#262626" stroke-width="0.03" textLength="38.48" lengthAdjust="spacingAndGlyphs" ># deaths/events</text>
<text x="410.9" y="201.47" font-size="5.75" text-anchor="end" fill="#262626" stroke="#262626" stroke-width="0.03" textLength="6.06" lengthAdjust="spacingAndGlyphs" >69</text>
<text x="507.9" y="201.47" font-size="5.75" text-anchor="end" fill="#262626" stroke="#262626" stroke-width="0.03" textLength="6.06" lengthAdjust="spacingAndGlyphs" >26</text>
<text x="313.6" y="209.42" font-size="5.75" text-anchor="start" fill="#262626" stroke="#262626" stroke-width="0.03" textLength="50.28" lengthAdjust="spacingAndGlyphs" >Median OS (months)</text>
<text x="410.9" y="209.42" font-size="5.75" text-anchor="end" fill="#262626" stroke="#262626" stroke-width="0.03" textLength="19.7" lengthAdjust="spacingAndGlyphs" >14.4464</text>
<text x="507.9" y="209.42" font-size="5.75" text-anchor="end" fill="#262626" stroke="#262626" stroke-width="0.03" textLength="19.7" lengthAdjust="spacingAndGlyphs" >8.82648</text>
<line x1="73.7" y1="383.7" x2="226.5" y2="383.7" stroke="#1a1a1a" stroke-width="1.15"/>
<line x1="73.7" y1="392.2" x2="226.5" y2="392.2" stroke="#1a1a1a" stroke-width="1.15"/>
<line x1="73.7" y1="400.8" x2="226.5" y2="400.8" stroke="#1a1a1a" stroke-width="1.15"/>
<line x1="73.7" y1="409.3" x2="226.5" y2="409.3" stroke="#1a1a1a" stroke-width="1.15"/>
<line x1="73.7" y1="417.8" x2="226.5" y2="417.8" stroke="#1a1a1a" stroke-width="1.15"/>
<line x1="73.7" y1="426.2" x2="226.5" y2="426.2" stroke="#1a1a1a" stroke-width="1.15"/>
<line x1="74.2" y1="383.7" x2="74.2" y2="426.2" stroke="#1a1a1a" stroke-width="1.15"/>
<line x1="142.8" y1="383.7" x2="142.8" y2="426.2" stroke="#1a1a1a" stroke-width="1.15"/>
<line x1="176.3" y1="383.7" x2="176.3" y2="426.2" stroke="#1a1a1a" stroke-width="1.15"/>
<line x1="226" y1="383.7" x2="226" y2="426.2" stroke="#1a1a1a" stroke-width="1.15"/>
<text x="78.7" y="390.02" font-size="5.75" text-anchor="start" fill="#262626" stroke="#262626" stroke-width="0.03" textLength="41.2" lengthAdjust="spacingAndGlyphs" >Number of cases</text>
<text x="173.1" y="390.02" font-size="5.75" text-anchor="end" fill="#262626" stroke="#262626" stroke-width="0.03" textLength="9.09" lengthAdjust="spacingAndGlyphs" >378</text>
<text x="173.1" y="398.57" font-size="5.75" text-anchor="end" fill="#262626" stroke="#262626" stroke-width="0.03" textLength="26.26" lengthAdjust="spacingAndGlyphs" >Unaffected</text>
<text x="222.8" y="398.57" font-size="5.75" text-anchor="end" fill="#262626" stroke="#262626" stroke-width="0.03" textLength="36.66" lengthAdjust="spacingAndGlyphs" >High Spliced10</text>
<text x="78.7" y="407.12" font-size="5.75" text-anchor="start" fill="#262626" stroke="#262626" stroke-width="0.03" textLength="48.47" lengthAdjust="spacingAndGlyphs" ># censored subjects</text>
<text x="173.1" y="407.12" font-size="5.75" text-anchor="end" fill="#262626" stroke="#262626" stroke-width="0.03" textLength="9.09" lengthAdjust="spacingAndGlyphs" >285</text>
<text x="222.8" y="407.12" font-size="5.75" text-anchor="end" fill="#262626" stroke="#262626" stroke-width="0.03" textLength="3.03" lengthAdjust="spacingAndGlyphs" >5</text>
<text x="78.7" y="415.62" font-size="5.75" text-anchor="start" fill="#262626" stroke="#262626" stroke-width="0.03" textLength="38.48" lengthAdjust="spacingAndGlyphs" ># deaths/events</text>
<text x="173.1" y="415.62" font-size="5.75" text-anchor="end" fill="#262626" stroke="#262626" stroke-width="0.03" textLength="6.06" lengthAdjust="spacingAndGlyphs" >82</text>
<text x="222.8" y="415.62" font-size="5.75" text-anchor="end" fill="#262626" stroke="#262626" stroke-width="0.03" textLength="3.03" lengthAdjust="spacingAndGlyphs" >6</text>
<text x="78.7" y="424.07" font-size="5.75" text-anchor="start" fill="#262626" stroke="#262626" stroke-width="0.03" textLength="50.28" lengthAdjust="spacingAndGlyphs" >Median OS (months)</text>
<text x="173.1" y="424.07" font-size="5.75" text-anchor="end" fill="#262626" stroke="#262626" stroke-width="0.03" textLength="19.7" lengthAdjust="spacingAndGlyphs" >64.2645</text>
<text x="222.8" y="424.07" font-size="5.75" text-anchor="end" fill="#262626" stroke="#262626" stroke-width="0.03" textLength="19.7" lengthAdjust="spacingAndGlyphs" >20.7934</text>
<rect x="0" y="0" width="520" height="1" fill="#000"/>
<rect x="0" y="1" width="520" height="0.5" fill="#000"/>
<rect x="0" y="431.5" width="520" height="1.5" fill="#000"/>
<rect x="0" y="0" width="1" height="433" fill="#9a9a9a"/>
<rect x="1" y="0" width="1.2" height="433" fill="#303030"/>
<rect x="518" y="0" width="1" height="433" fill="#2a2a2a"/>
<rect x="519" y="0" width="1" height="433" fill="#b0b0b0"/>
</g></svg>
</body></html>
